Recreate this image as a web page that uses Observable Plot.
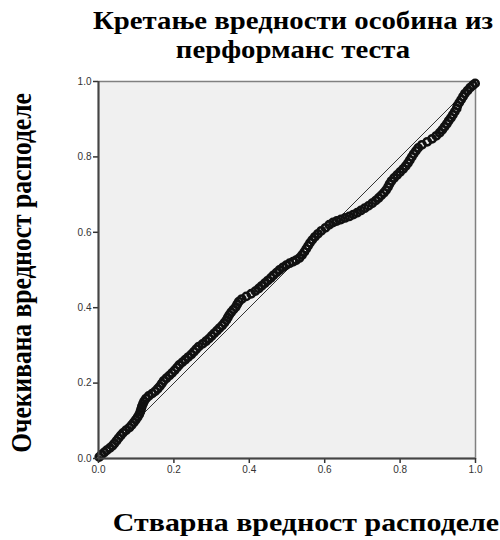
<!DOCTYPE html>
<html>
<head>
<meta charset="utf-8">
<script src="https://cdn.jsdelivr.net/npm/d3@7"></script>
<script src="https://cdn.jsdelivr.net/npm/@observablehq/plot@0.6"></script>
<style>
  html, body { margin: 0; padding: 0; background: #fff; }
  #wrap { position: relative; width: 500px; height: 540px; overflow: hidden; }
  .t { position: absolute; font-family: "Liberation Serif", "Times New Roman", serif; font-weight: bold; color: #000; white-space: nowrap; }
  #title { left: 293px; top: 6px; transform: translateX(-50%) scaleX(1.15); font-size: 25px; line-height: 29px; text-align: center; }
  #xlab { left: 306px; top: 510px; transform: translateX(-50%) scaleX(1.15); font-size: 26px; line-height: 26px; }
  #ylab { left: 22px; top: 273px; transform: translate(-50%, -50%) rotate(-90deg) scaleY(1.15); font-size: 25.5px; line-height: 25.5px; }
  #chart { position: absolute; left: 0; top: 0; }
</style>
</head>
<body>
<div id="wrap">
  <div id="chart"></div>
  <div id="title" class="t">Кретање вредности особина из<br>перформанс теста</div>
  <div id="xlab" class="t">Стварна вредност расподеле</div>
  <div id="ylab" class="t">Очекивана вредност расподеле</div>
</div>
<script>
// Observed cumulative probability (x) and expected cumulative probability (y)
const observed = [
  0.002,0.008,0.015,0.022,0.030,0.037,0.042,0.048,0.053,0.059,0.065,0.073,0.082,0.088,0.094,0.099,
  0.104,0.108,0.111,0.113,0.115,0.118,0.121,0.126,0.133,0.142,0.150,0.157,0.163,0.168,0.173,0.180,
  0.188,0.195,0.202,0.208,0.214,0.222,0.230,0.238,0.246,0.253,0.259,0.266,0.276,0.285,0.293,0.300,
  0.307,0.314,0.321,0.328,0.334,0.339,0.343,0.347,0.352,0.358,0.364,0.368,0.372,0.380,0.392,0.405,
  0.416,0.425,0.433,0.441,0.449,0.457,0.464,0.472,0.480,0.489,0.498,0.507,0.516,0.524,0.533,0.540,
  0.546,0.551,0.556,0.561,0.567,0.574,0.582,0.591,0.602,0.612,0.622,0.632,0.643,0.654,0.665,0.676,
  0.686,0.696,0.706,0.716,0.726,0.735,0.743,0.750,0.757,0.763,0.768,0.772,0.777,0.784,0.792,0.800,
  0.808,0.815,0.821,0.826,0.831,0.836,0.842,0.848,0.858,0.872,0.885,0.896,0.905,0.912,0.918,0.924,
  0.929,0.935,0.940,0.945,0.950,0.952,0.957,0.962,0.967,0.972,0.979,0.986,0.993,0.999
];
const expected = [
  0.004,0.010,0.016,0.022,0.028,0.034,0.040,0.047,0.054,0.061,0.068,0.075,0.082,0.089,0.096,0.103,
  0.110,0.117,0.124,0.131,0.138,0.145,0.152,0.159,0.166,0.172,0.178,0.185,0.192,0.199,0.206,0.213,
  0.220,0.227,0.234,0.241,0.248,0.255,0.262,0.269,0.276,0.283,0.290,0.297,0.304,0.311,0.318,0.325,
  0.332,0.339,0.346,0.353,0.360,0.367,0.374,0.381,0.388,0.395,0.402,0.409,0.416,0.423,0.430,0.437,
  0.444,0.451,0.458,0.465,0.472,0.479,0.486,0.493,0.500,0.507,0.513,0.518,0.522,0.526,0.532,0.540,
  0.548,0.556,0.564,0.572,0.580,0.588,0.596,0.604,0.612,0.620,0.626,0.630,0.634,0.638,0.642,0.647,
  0.652,0.658,0.664,0.670,0.677,0.684,0.691,0.698,0.705,0.712,0.720,0.728,0.736,0.744,0.752,0.760,
  0.768,0.776,0.784,0.792,0.800,0.808,0.816,0.824,0.832,0.840,0.848,0.856,0.864,0.872,0.880,0.888,
  0.896,0.904,0.912,0.920,0.928,0.936,0.944,0.952,0.960,0.968,0.976,0.984,0.990,0.995,0.999
].slice(0, observed.length);
const refLine = [0, 1];
const tickValues = [0, 0.2, 0.4, 0.6, 0.8, 1.0];

const points = observed.map((x, i) => ({x, y: expected[i]}));
const ref = refLine.map(v => ({x: v, y: v}));

const chart = Plot.plot({
  width: 500,
  height: 540,
  marginLeft: 98,
  marginRight: 25,
  marginTop: 81,
  marginBottom: 82,
  style: {background: "transparent", fontFamily: "'Liberation Sans', Arial, sans-serif", fontSize: "10px", color: "#333"},
  x: {domain: [0, 1], ticks: tickValues, tickFormat: d3.format(".1f"), label: null, tickSize: 5, tickPadding: 2},
  y: {domain: [0, 1], ticks: tickValues, tickFormat: d3.format(".1f"), label: null, tickSize: 5, tickPadding: 2},
  marks: [
    Plot.frame({fill: "#f0f0f0", stroke: "#808080", strokeWidth: 1.5}),
    Plot.line(ref, {x: "x", y: "y", stroke: "#333", strokeWidth: 1}),
    Plot.dot(points, {x: "x", y: "y", r: 3.6, stroke: "#111", fill: "none", strokeWidth: 2.6}),
    Plot.axisX({ticks: tickValues, tickFormat: d3.format(".1f"), label: null, tickSize: 5, tickPadding: 2, stroke: "#333", strokeWidth: 1.5, fill: "#333"}),
    Plot.axisY({ticks: tickValues, tickFormat: d3.format(".1f"), label: null, tickSize: 5, tickPadding: 2, stroke: "#333", strokeWidth: 1.5, fill: "#333"}),
    Plot.ruleX([0], {stroke: "#444", strokeWidth: 2}),
    Plot.ruleY([0], {stroke: "#444", strokeWidth: 2})
  ]
});
document.getElementById("chart").appendChild(chart);
</script>
</body>
</html>
